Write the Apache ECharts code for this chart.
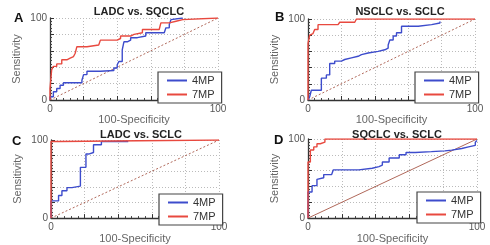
<!DOCTYPE html>
<html>
<head>
<meta charset="utf-8">
<script src="https://cdn.jsdelivr.net/npm/echarts@6/dist/echarts.min.js"></script>
<style>
  html, body { margin: 0; padding: 0; background: #fff; }
  #chart { width: 490px; height: 245px; }
</style>
</head>
<body>
<div id="chart"></div>
<script>
// panel labels
const panelLetters = ['A', 'B', 'C', 'D'];
const panelTitles = ['LADC vs. SQCLC', 'NSCLC vs. SCLC', 'LADC vs. SCLC', 'SQCLC vs. SCLC'];
const seriesNames = ['4MP', '7MP'];

// ROC points [100-specificity, sensitivity]
const rocA_4MP = [[0,0],[0,4],[2,10],[4,14],[6,18],[8,21],[19,24],[20,31],[22,35],[30,36],[38,39],[40,43],[41,47],[43,61],[44,71],[46,73],[48,76],[52,78],[57,82],[68,82],[69,88],[71,92],[72,98],[73,100],[79,100]];
const rocA_7MP = [[0,0],[0,14],[1,37],[2,41],[4,44],[7,49],[10,51],[12,53],[14,55],[15,57],[16,65],[22,67],[29,69],[30,73],[40,75],[42,78],[48,80],[50,82],[55,86],[65,88],[66,94],[71,96],[75,98],[79,100],[100,100]];

const rocB_4MP = [[0,0],[1,4],[2,12],[8,27],[11,31],[13,45],[16,48],[20,50],[22,52],[26,54],[30,56],[32,58],[36,60],[42,62],[46,64],[48,68],[49,74],[51,79],[53,83],[56,91],[66,93],[74,95],[79,97]];
const rocB_7MP = [[0,0],[0,70],[1,80],[2,82],[3,84],[4,87],[6,93],[18,95],[19,96],[28,97],[29,100],[100,100]];

const rocC_4MP = [[0,0],[0,22],[4.5,29],[6.5,35],[9.5,39],[12.5,41],[17.5,65],[20.8,82],[22.4,84],[25.3,94],[30,98],[46,98]];
const rocC_7MP = [[0,0],[0,98],[4.5,100],[100,100]];

const rocD_4MP = [[0,0],[0,33],[2.4,41],[5.3,49],[6.3,51],[9.3,55],[14,57],[15,61],[30,63],[38,65],[42,67],[44,71],[48,76],[54,80],[58,83],[63.5,84],[73,85],[81,86],[85,88],[91,90],[95,92],[99,96],[100,98]];
const rocD_7MP = [[0,0],[0,71],[1.4,86],[3.4,90],[5.3,94],[7.3,96],[10,100],[100,100]];

const chanceLine = [[0,0],[100,100]];

const roc4 = [rocA_4MP, rocB_4MP, rocC_4MP, rocD_4MP];
const roc7 = [rocA_7MP, rocB_7MP, rocC_7MP, rocD_7MP];

const FONT = 'Liberation Sans';
const BLUE = '#3d4ccc';
const RED = '#e8493f';

// plot boxes (px)
const boxes = [
  { left: 50, top: 18, width: 168, height: 82 },
  { left: 308, top: 19, width: 167, height: 81 },
  { left: 51, top: 140, width: 168, height: 82 },
  { left: 308, top: 139, width: 169, height: 81 }
];
const titlePos = [[134, 1], [395, 1], [136, 124], [392, 124]];
const letterPos = [[9, 7], [270, 6], [7, 130], [269, 129]];

let myChart = echarts.init(document.getElementById('chart'));

let titles = [];
let grids = [];
let xAxes = [];
let yAxes = [];
let legends = [];
let series = [];

function axisBase(i) {
  return {
    type: 'value',
    min: 0,
    max: 100,
    interval: 20,
    gridIndex: i,
    axisLine: { show: true, lineStyle: { color: '#333', width: 1.3 } },
    axisTick: { show: true, inside: true, length: 4, lineStyle: { color: '#333' } },
    minorTick: { show: true, splitNumber: 5, length: 2, lineStyle: { color: '#444' } },
    splitLine: { show: true, lineStyle: { color: '#bbb', type: [1, 2], width: 1 } },
    axisLabel: {
      color: '#555',
      fontSize: 10,
      fontFamily: FONT,
      formatter: v => (v === 0 || v === 100 ? String(v) : '')
    },
    nameTextStyle: { color: '#666', fontSize: 11, fontFamily: FONT },
    nameLocation: 'middle'
  };
}

boxes.forEach((b, i) => {
  titles.push({
    text: panelTitles[i],
    left: titlePos[i][0],
    top: titlePos[i][1],
    textAlign: 'center',
    textStyle: { fontSize: 11, fontWeight: 'bold', color: '#222', fontFamily: FONT }
  });
  titles.push({
    text: panelLetters[i],
    left: letterPos[i][0],
    top: letterPos[i][1],
    textStyle: { fontSize: 13, fontWeight: 'bold', color: '#111', fontFamily: FONT }
  });

  grids.push(Object.assign({ containLabel: false }, b));

  let xa = axisBase(i);
  xa.name = '100-Specificity';
  xa.nameGap = 14;
  xa.axisLabel.margin = 4;
  xAxes.push(xa);

  let ya = axisBase(i);
  ya.name = 'Sensitivity';
  ya.nameGap = 28;
  ya.axisLabel.margin = 3;
  yAxes.push(ya);

  legends.push({
    data: seriesNames,
    orient: 'vertical',
    left: b.left + b.width - 60,
    top: b.top + b.height - 28,
    padding: [3, 7, 3, 9],
    icon: 'rect',
    itemWidth: 20,
    itemHeight: 2,
    itemGap: 3,
    itemTextGap: 7,
    backgroundColor: '#fff',
    borderColor: '#444',
    borderWidth: 1.2,
    borderRadius: 0,
    textStyle: { fontSize: 11, color: '#333', fontFamily: FONT, lineHeight: 11 },
    selectedMode: false
  });

  series.push({
    type: 'line',
    xAxisIndex: i,
    yAxisIndex: i,
    data: chanceLine,
    symbol: 'none',
    silent: true,
    lineStyle: { color: '#b0685a', width: 1, type: i === 3 ? 'solid' : [2, 2] },
    z: 1
  });
  series.push({
    name: seriesNames[0],
    type: 'line',
    xAxisIndex: i,
    yAxisIndex: i,
    data: roc4[i],
    step: 'end',
    symbol: 'none',
    color: BLUE,
    lineStyle: { color: BLUE, width: 1.4 },
    z: 2
  });
  series.push({
    name: seriesNames[1],
    type: 'line',
    xAxisIndex: i,
    yAxisIndex: i,
    data: roc7[i],
    step: 'end',
    symbol: 'none',
    color: RED,
    lineStyle: { color: RED, width: 1.4 },
    z: 3
  });
});

let option = {
  backgroundColor: '#fff',
  animation: false,
  title: titles,
  grid: grids,
  xAxis: xAxes,
  yAxis: yAxes,
  legend: legends,
  series: series
};

myChart.setOption(option);
</script>
</body>
</html>
